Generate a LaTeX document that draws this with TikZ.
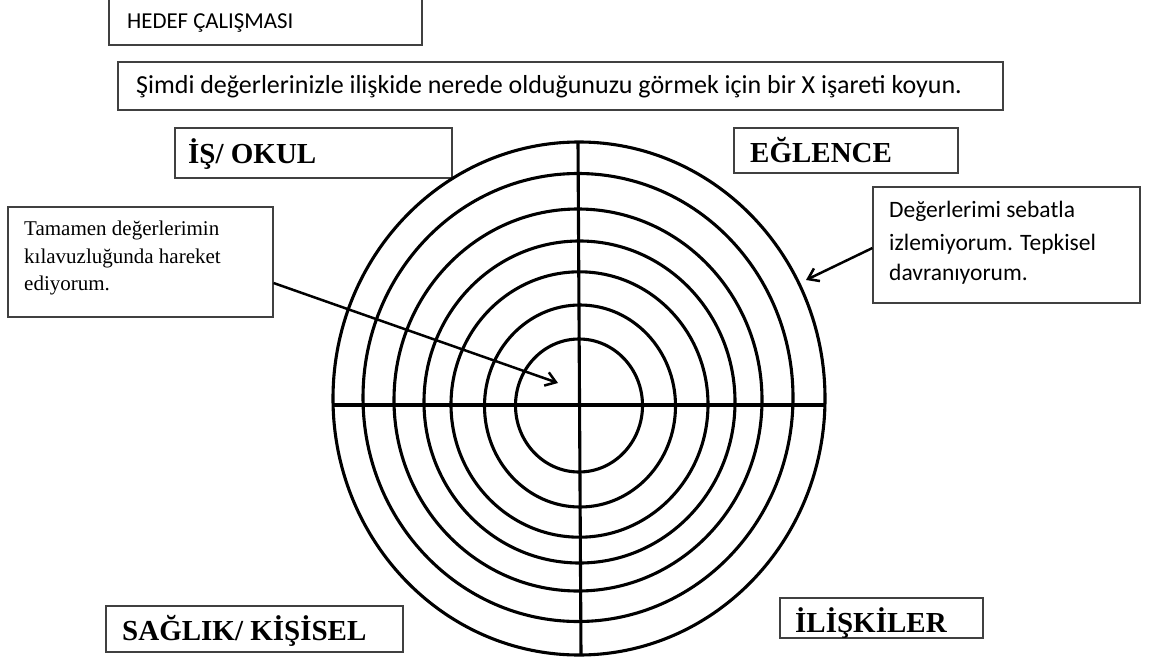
\documentclass[tikz,border=0pt]{standalone}
\usepackage{fontspec}
\setmainfont{Liberation Serif}
\newfontfamily\carfont{Carlito}
\usetikzlibrary{arrows.meta}
\begin{document}
\begin{tikzpicture}[x=1pt,y=-1pt,
  box/.style={draw=black!75, line width=1.1pt, inner sep=0pt},
  ring/.style={line width=3.1pt},
  arr/.style={line width=2.5pt, -{Straight Barb[length=10pt,width=14pt,line width=2.5pt]}},
  stxt/.style={anchor=base west, inner sep=0pt, font=\carfont\fontsize{22.8}{30}\selectfont},
  btxt/.style={anchor=base west, inner sep=0pt, font=\bfseries\fontsize{29}{34}\selectfont},
  rtxt/.style={anchor=base west, inner sep=0pt, font=\fontsize{21}{28}\selectfont}]
\useasboundingbox (0,0) rectangle (1153,663);
\begin{scope}
\clip (0,0) rectangle (1153,663);
% boxes
\node[box, minimum width=313pt, minimum height=52pt] (hedef) at (265.5,19) {};
\node[box, minimum width=885pt, minimum height=48pt] (simdi) at (560.5,86) {};
\node[box, minimum width=277pt, minimum height=50pt] (is) at (313.5,153) {};
\node[box, minimum width=224pt, minimum height=45pt] (eg) at (846,150.5) {};
\node[box, minimum width=265pt, minimum height=110pt] (tam) at (140.5,262) {};
\node[box, minimum width=267pt, minimum height=116pt] (dev) at (1006.5,245) {};
\node[box, minimum width=297pt, minimum height=46pt] (sag) at (254.5,629) {};
\node[box, minimum width=203pt, minimum height=40pt] (ili) at (881.5,618) {};
% texts
\node[stxt] (t1) at (127,29) {HEDEF ÇALIŞMASI};
\node[stxt, font=\carfont\fontsize{26}{30}\selectfont] (t2) at (136,94) {Şimdi değerlerinizle ilişkide nerede olduğunuzu görmek için bir X işareti koyun.};
\node[btxt] (t3) at (188,164) {İŞ/ OKUL};
\node[btxt] (t4) at (750,163) {EĞLENCE};
\node[rtxt] (t5) at (24,235) {Tamamen değerlerimin};
\node[rtxt] (t6) at (24,263) {kılavuzluğunda hareket};
\node[rtxt] (t7) at (24,290) {ediyorum.};
\node[stxt, font=\carfont\fontsize{23.5}{30}\selectfont] (t8) at (889,218) {Değerlerimi sebatla};
\node[stxt, font=\carfont\fontsize{23.5}{30}\selectfont] (t9) at (889,250) {izlemiyorum. Tepkisel};
\node[stxt, font=\carfont\fontsize{23.5}{30}\selectfont] (t10) at (889,280) {davranıyorum.};
\node[btxt] (t11) at (122,640) {SAĞLIK/ KİŞİSEL};
\node[btxt] (t12) at (795,632) {İLİŞKİLER};
% rings
\draw[ring] (579,405.5) ellipse [x radius=63.5pt, y radius=66.5pt];
\draw[ring] (580,406) ellipse [x radius=95.5pt, y radius=101pt];
\draw[ring] (579.5,404.5) ellipse [x radius=128.5pt, y radius=132.7pt];
\draw[ring] (579.5,402) ellipse [x radius=155.5pt, y radius=161pt];
\draw[ring] (578,400) ellipse [x radius=184pt, y radius=191pt];
\draw[ring] (578,397.5) ellipse [x radius=215pt, y radius=224pt];
\draw[ring] (579,398.5) ellipse [x radius=246pt, y radius=256.5pt];
% axes
\coordinate (vt) at (578,142);
\coordinate (vb) at (581,655);
\coordinate (hl) at (333,405);
\coordinate (hr) at (825,405);
\draw[ring] (vt) -- (vb);
\draw[ring] (hl) -- (hr);
% arrows
\coordinate (tip1) at (558,383);
\coordinate (tip2) at (806,280);
\draw[arr] ([yshift=-21pt]tam.east) -- (tip1);
\draw[arr] ([yshift=-3pt]dev.west) -- (tip2);
\end{scope}
\end{tikzpicture}
\end{document}
